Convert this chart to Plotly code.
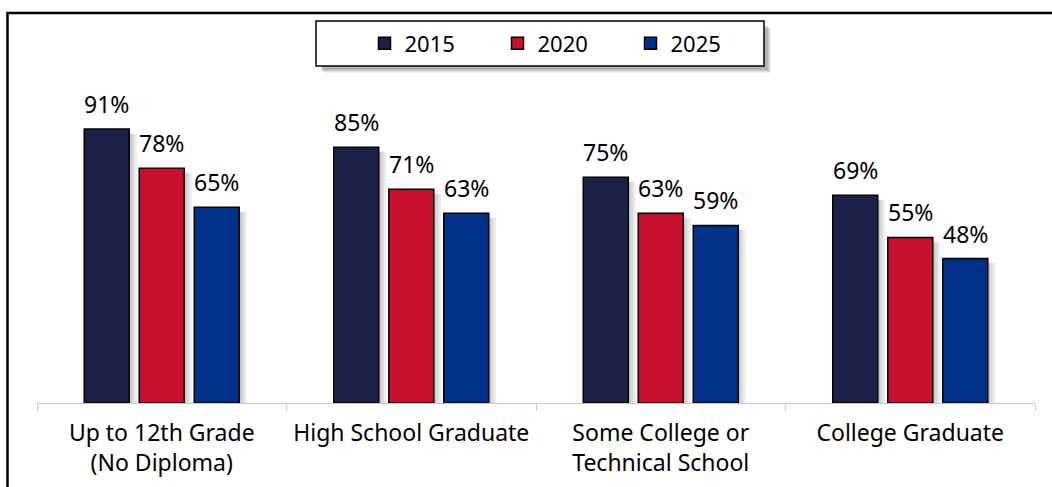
import plotly.graph_objects as go

# Education level categories (tick labels) and share values per year
categories = ["Up to 12th Grade<br>(No Diploma)", "High School Graduate",
              "Some College or<br>Technical School", "College Graduate"]
years = ["2015", "2020", "2025"]
values_2015 = [91, 85, 75, 69]
values_2020 = [78, 71, 63, 55]
values_2025 = [65, 63, 59, 48]
series = [values_2015, values_2020, values_2025]
colors = ["#1C2046", "#C8102E", "#00308A"]

W, H = 1052, 487
ML, MR, MT, MB = 37, 17, 102, 84
PW, PH = W - ML - MR, H - MT - MB

FONT = "Noto Sans, Tahoma, sans-serif"
FS = 23

cat_px = PW / len(categories)          # pixels per category
bar_w = 45 / cat_px                     # bar width in category units
step = 55 / cat_px                      # centre-to-centre spacing of bars


def px_x(p):
    return (p - ML) / PW


def px_y(p):
    return (H - MB - p) / PH


fig = go.Figure()

# soft drop shadows to the right of each bar
for k, vals in enumerate(series):
    centre = (k - 1) * step
    for j, (dx, alpha) in enumerate([(0, 0.22), (2.5, 0.14), (5, 0.07)]):
        fig.add_trace(go.Bar(
            x=categories, y=[v - 1.5 for v in vals],
            offset=centre + bar_w / 2 + dx / cat_px, width=2.5 / cat_px,
            marker=dict(color=f"rgba(0,0,0,{alpha})", line=dict(width=0)),
            showlegend=False, hoverinfo="skip",
        ))

# the bars themselves
for k, (name, vals, col) in enumerate(zip(years, series, colors)):
    centre = (k - 1) * step
    fig.add_trace(go.Bar(
        x=categories, y=vals, name=name,
        offset=centre - bar_w / 2, width=bar_w,
        marker=dict(color=col, line=dict(color="#000000", width=1.5)),
    ))
    for c, v in zip(categories, vals):
        fig.add_annotation(
            x=c, y=v, text=f"{v}%", showarrow=False,
            xshift=(k - 1) * 55, yshift=7, yanchor="bottom",
            font=dict(family=FONT, size=FS, color="#000000"),
        )

# legend frame with its shadow
lx0, lx1, ly0, ly1 = 316, 764, 21, 66
for i, a in enumerate([0.05, 0.07, 0.09, 0.11]):
    o = 6 - i
    fig.add_shape(type="rect", xref="paper", yref="paper",
                  x0=px_x(lx0 + o + 2), x1=px_x(lx1 + o + 1),
                  y0=px_y(ly1 + o + 1), y1=px_y(ly0 + o + 2),
                  line=dict(width=0), fillcolor=f"rgba(0,0,0,{a})", layer="below")
fig.add_shape(type="rect", xref="paper", yref="paper",
              x0=px_x(lx0), x1=px_x(lx1), y0=px_y(ly1), y1=px_y(ly0),
              line=dict(color="#000000", width=1.5), fillcolor="#FFFFFF", layer="below")

# outer frame (open on the right and bottom edges)
fig.add_shape(type="rect", xref="paper", yref="paper",
              x0=px_x(7.5), x1=px_x(W + 20), y0=px_y(H + 20), y1=px_y(13),
              line=dict(color="#000000", width=2.5), fillcolor="rgba(0,0,0,0)")

fig.update_layout(
    width=W, height=H,
    margin=dict(l=ML, r=MR, t=MT, b=MB, autoexpand=False),
    paper_bgcolor="#FFFFFF", plot_bgcolor="#FFFFFF",
    barmode="overlay",
    font=dict(family=FONT, size=FS, color="#000000"),
    showlegend=True,
    legend=dict(orientation="h", x=px_x(364.5), y=px_y(43.5),
                xanchor="left", yanchor="middle",
                bgcolor="rgba(0,0,0,0)", borderwidth=0,
                entrywidth=88, entrywidthmode="pixels",
                font=dict(family=FONT, size=22), itemclick=False),
    xaxis=dict(showline=True, linecolor="#C8C8C8", linewidth=1,
               ticks="outside", tickson="boundaries", ticklen=7,
               tickcolor="#C8C8C8", showgrid=False, automargin=False,
               ticklabelstandoff=9,
               tickfont=dict(family=FONT, size=FS, color="#000000")),
    yaxis=dict(range=[0, 100], visible=False, showgrid=False, zeroline=False),
)

fig.write_html("out.html")
